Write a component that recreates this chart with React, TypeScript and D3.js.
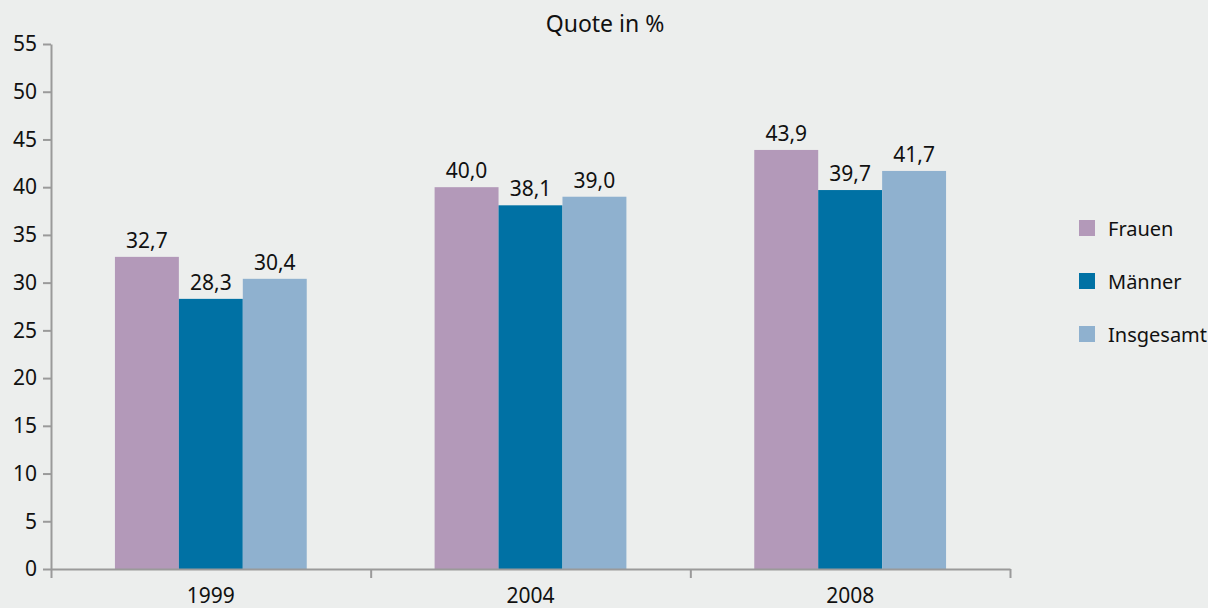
import React, { useEffect, useRef } from "react";
import * as d3 from "d3";

const years = ["1999", "2004", "2008"];
const seriesNames = ["Frauen", "Männer", "Insgesamt"];
const frauen = [32.7, 40.0, 43.9];
const maenner = [28.3, 38.1, 39.7];
const insgesamt = [30.4, 39.0, 41.7];
const yTicks = [0, 5, 10, 15, 20, 25, 30, 35, 40, 45, 50, 55];
const colors = ["#b399b9", "#0071a4", "#8fb1cf"];

const App: React.FC = () => {
  const svgRef = useRef<SVGSVGElement | null>(null);

  useEffect(() => {
    if (!svgRef.current) return;
    const svg = d3.select(svgRef.current);
    svg.selectAll("*").remove();

    const font = "'Noto Sans', 'Open Sans', sans-serif";
    const left = 51;
    const right = 1010;
    const top = 44;
    const bottom = 569;
    const values = [frauen, maenner, insgesamt];

    svg.append("rect").attr("width", 1208).attr("height", 608).attr("fill", "#eceeed");

    const x = d3.scaleBand<string>().domain(years).range([left, right]);
    const inner = d3
      .scaleBand<string>()
      .domain(seriesNames)
      .range([0, x.bandwidth() * 0.6]);
    const y = d3.scaleLinear().domain([0, 55]).range([bottom, top]);

    // bars
    years.forEach((yr, i) => {
      const gx = (x(yr) || 0) + x.bandwidth() * 0.2;
      seriesNames.forEach((s, j) => {
        const v = values[j][i];
        const bx = gx + (inner(s) || 0);
        svg
          .append("rect")
          .attr("x", bx)
          .attr("y", y(v))
          .attr("width", inner.bandwidth())
          .attr("height", y(0) - y(v))
          .attr("fill", colors[j]);
        svg
          .append("text")
          .attr("x", bx + inner.bandwidth() / 2)
          .attr("y", y(v) - 9)
          .attr("text-anchor", "middle")
          .attr("font-family", font)
          .attr("font-size", 21)
          .attr("fill", "#111")
          .text(d3.format(".1f")(v).replace(".", ","));
      });
    });

    // y axis
    const yAxis = svg
      .append("g")
      .attr("transform", `translate(${left},0)`)
      .call(d3.axisLeft(y).tickValues(yTicks).tickSize(8).tickPadding(6).tickSizeOuter(0));
    yAxis.select(".domain").attr("stroke", "#9a9a9a").attr("stroke-width", 2);
    yAxis.selectAll(".tick line").attr("stroke", "#9a9a9a").attr("stroke-width", 2);
    yAxis
      .selectAll(".tick text")
      .attr("font-family", font)
      .attr("font-size", 21)
      .attr("fill", "#111");

    // x axis
    const xLin = d3.scaleLinear().domain([0, 3]).range([left, right]);
    const xAxis = svg
      .append("g")
      .attr("transform", `translate(0,${bottom})`)
      .call(d3.axisBottom(xLin).tickValues([0, 1, 2, 3]).tickSize(9).tickFormat(() => "").tickSizeOuter(0));
    xAxis.select(".domain").attr("stroke", "#9a9a9a").attr("stroke-width", 2);
    xAxis.selectAll(".tick line").attr("stroke", "#9a9a9a").attr("stroke-width", 2);

    svg
      .append("g")
      .selectAll("text")
      .data(years)
      .join("text")
      .attr("x", (d) => (x(d) || 0) + x.bandwidth() / 2)
      .attr("y", 603)
      .attr("text-anchor", "middle")
      .attr("font-family", font)
      .attr("font-size", 21)
      .attr("fill", "#111")
      .text((d) => d);

    // title
    svg
      .append("text")
      .attr("x", 605)
      .attr("y", 32)
      .attr("text-anchor", "middle")
      .attr("font-family", font)
      .attr("font-size", 23)
      .attr("fill", "#111")
      .text("Quote in %");

    // legend
    const legend = svg
      .append("g")
      .selectAll("g")
      .data(seriesNames)
      .join("g")
      .attr("transform", (d, i) => `translate(1079,${220 + i * 53})`);
    legend
      .append("rect")
      .attr("width", 16)
      .attr("height", 16)
      .attr("fill", (d, i) => colors[i]);
    legend
      .append("text")
      .attr("x", 29)
      .attr("y", 16)
      .attr("font-family", font)
      .attr("font-size", 20)
      .attr("fill", "#111")
      .text((d) => d);
  }, []);

  return (
    <svg
      ref={svgRef}
      width={1208}
      height={608}
      style={{ position: "absolute", left: 0, top: 0 }}
    ></svg>
  );
};

export default App;
